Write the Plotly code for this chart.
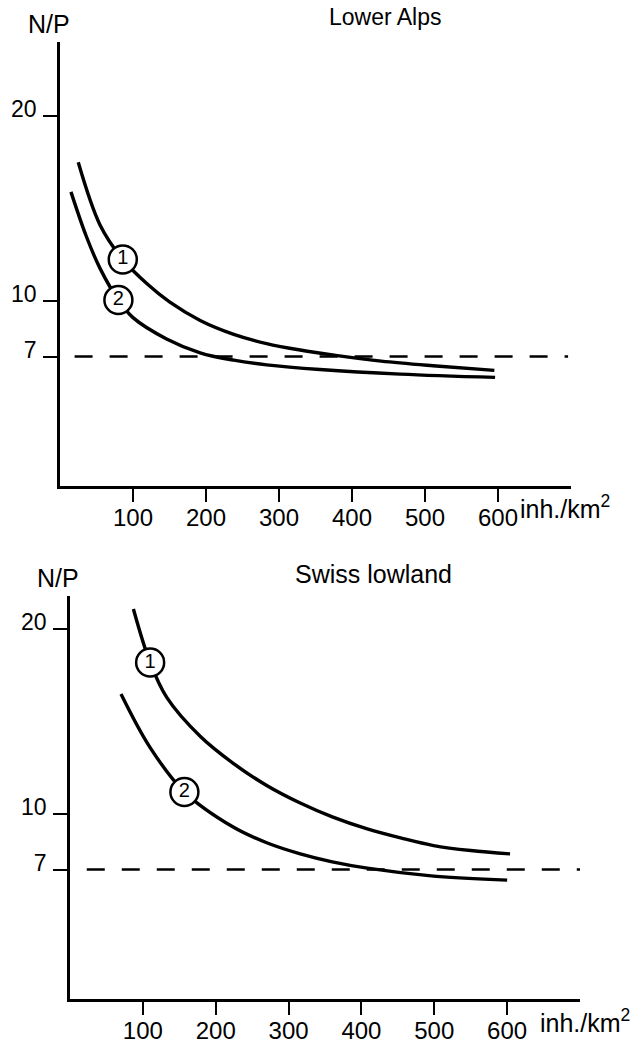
import plotly.graph_objects as go

W, H = 638, 1045

# ---------------- data ----------------
x_tick_vals = [100, 200, 300, 400, 500, 600]
y_tick_vals = [7, 10, 20]
threshold = 7

# Lower Alps
alps_c1_x = [25, 55, 86, 120, 150, 192, 238, 283, 329, 380, 440, 511, 595]
alps_c1_y = [17.5, 14.1, 12.25, 10.9, 9.95, 8.95, 8.2, 7.7, 7.35, 7.05, 6.75, 6.5, 6.25]
alps_c2_x = [15, 36, 55, 80, 100, 146, 192, 238, 283, 356, 466, 596]
alps_c2_y = [15.9, 13.5, 11.75, 10.05, 9.1, 7.95, 7.2, 6.8, 6.55, 6.3, 6.05, 5.87]
alps_dash_x = [20, 696]
alps_lab_x = [86, 80]
alps_lab_y = [12.25, 10.05]

# Swiss lowland
low_c1_x = [87, 110, 133, 179, 224, 270, 316, 360, 408, 455, 499, 550, 604]
low_c1_y = [21.1, 18.2, 16.3, 14.2, 12.75, 11.55, 10.6, 9.85, 9.2, 8.7, 8.3, 8.03, 7.85]
low_c2_x = [70, 110, 157, 224, 270, 316, 360, 408, 499, 600]
low_c2_y = [16.5, 13.6, 11.2, 9.3, 8.45, 7.85, 7.42, 7.08, 6.65, 6.43]
low_dash_x = [23, 700]
low_lab_x = [110, 157]
low_lab_y = [18.2, 11.2]

circle_text = ["1", "2"]

FONT = "Liberation Sans, Arial, sans-serif"


def px_x(p):
    return p / W


def px_y(p):
    return 1 - p / H


fig = go.Figure()


def add_panel(xa, ya, c1x, c1y, c2x, c2y, dx, lx, ly):
    for cx, cy in ((c1x, c1y), (c2x, c2y)):
        fig.add_trace(go.Scatter(
            x=cx, y=cy, mode="lines", xaxis=xa, yaxis=ya,
            line=dict(color="black", width=3.4, shape="spline", smoothing=1.0),
            hoverinfo="skip"))
    fig.add_trace(go.Scatter(
        x=dx, y=[threshold, threshold], mode="lines", xaxis=xa, yaxis=ya,
        line=dict(color="black", width=2.5, dash="18px,17px"),
        hoverinfo="skip"))
    fig.add_trace(go.Scatter(
        x=lx, y=ly, mode="markers+text", text=circle_text, xaxis=xa, yaxis=ya,
        textposition="middle center",
        textfont=dict(size=20, color="black", family=FONT),
        marker=dict(size=28, color="white", line=dict(color="black", width=2.5)),
        cliponaxis=False, hoverinfo="skip"))


add_panel("x", "y", alps_c1_x, alps_c1_y, alps_c2_x, alps_c2_y,
          alps_dash_x, alps_lab_x, alps_lab_y)
add_panel("x2", "y2", low_c1_x, low_c1_y, low_c2_x, low_c2_y,
          low_dash_x, low_lab_x, low_lab_y)

xcommon = dict(
    range=[0, 700], tickvals=x_tick_vals, showgrid=False, zeroline=False,
    showline=True, linecolor="black", linewidth=2.5,
    ticks="outside", ticklen=13, tickwidth=2, tickcolor="black",
    tickfont=dict(size=24, color="black", family=FONT),
    ticklabelstandoff=-5, fixedrange=True)
ycommon = dict(
    tickvals=y_tick_vals, showgrid=False, zeroline=False,
    showline=True, linecolor="black", linewidth=2.5,
    ticks="outside", ticklen=14, tickwidth=2, tickcolor="black",
    tickfont=dict(size=23, color="black", family=FONT),
    ticklabelstandoff=2, ticklabelshift=-7, fixedrange=True)

fig.update_layout(
    width=W, height=H, margin=dict(l=0, r=0, t=0, b=0),
    paper_bgcolor="white", plot_bgcolor="white", showlegend=False,
    xaxis=dict(domain=[px_x(60), px_x(571)], anchor="y", **xcommon),
    yaxis=dict(domain=[px_y(486), px_y(42)], range=[0, 24], anchor="x", **ycommon),
    xaxis2=dict(domain=[px_x(70), px_x(580)], anchor="y2", **xcommon),
    yaxis2=dict(domain=[px_y(999), px_y(596)], range=[0, 21.8], anchor="x2", **ycommon),
)

ann = []


def text(x, y, s, size, xanchor="center"):
    ann.append(dict(x=px_x(x), y=px_y(y), xref="paper", yref="paper", text=s,
                    showarrow=False, xanchor=xanchor, yanchor="middle",
                    font=dict(size=size, color="black", family=FONT)))


text(49, 24, "N/P", 25)
text(385, 17, "Lower Alps", 23)
text(518, 507, "inh./km<sup>2</sup>", 25, xanchor="left")
text(58, 578, "N/P", 25)
text(374, 574, "Swiss lowland", 25)
text(538, 1021, "inh./km<sup>2</sup>", 25, xanchor="left")

fig.update_layout(annotations=ann)

fig.write_html("out.html")
